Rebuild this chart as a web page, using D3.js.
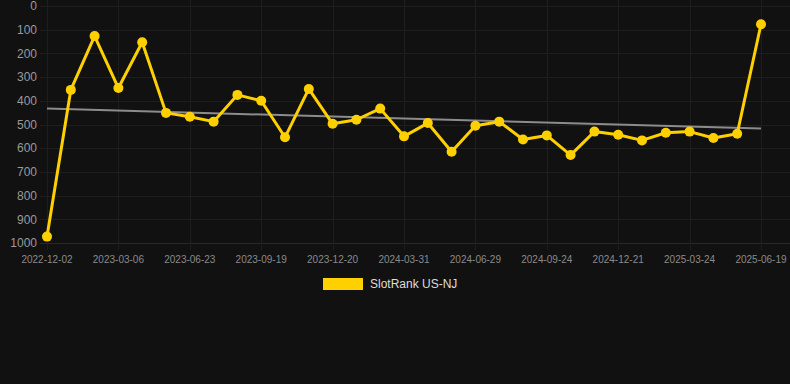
<!DOCTYPE html>
<html>
<head>
<meta charset="utf-8">
<script src="https://cdn.jsdelivr.net/npm/d3@7"></script>
<style>
  html, body { margin: 0; padding: 0; background: #111111; }
  svg { display: block; font-family: "Liberation Sans", Arial, Helvetica, sans-serif; }
</style>
</head>
<body>
<div id="chart"></div>
<script>
// rank per snapshot (lower is better, axis is reversed)
var ranks = [973, 354, 127, 346, 153, 451, 467, 488, 375, 400, 554, 350, 497, 480, 433,
             550, 494, 615, 505, 488, 563, 546, 629, 530, 543, 567, 535, 530, 557, 539, 77];
// labels shown every third point
var tickLabels = ["2022-12-02", "2023-03-06", "2023-06-23", "2023-09-19", "2023-12-20", "2024-03-31",
                  "2024-06-29", "2024-09-24", "2024-12-21", "2025-03-24", "2025-06-19"];
var yTicks = [0, 100, 200, 300, 400, 500, 600, 700, 800, 900, 1000];
var seriesName = "SlotRank US-NJ";

var W = 790, H = 384;
var margin = {top: 6, right: 29, bottom: 141, left: 47};

var svg = d3.select("#chart").append("svg")
    .attr("width", W)
    .attr("height", H);

svg.append("rect").attr("width", W).attr("height", H).attr("fill", "#111111");

var idx = d3.range(ranks.length);

var x = d3.scalePoint()
    .domain(idx)
    .range([margin.left, W - margin.right]);

var y = d3.scaleLinear()
    .domain([0, 1000])
    .range([margin.top, H - margin.bottom]);

var gridCol = "#1e1e1e";

// horizontal grid
svg.append("g")
    .selectAll("line")
    .data(yTicks)
    .enter().append("line")
    .attr("x1", 40).attr("x2", W)
    .attr("y1", function(d){ return Math.round(y(d)) + 0.5; })
    .attr("y2", function(d){ return Math.round(y(d)) + 0.5; })
    .attr("stroke", function(d){ return d === 1000 ? "#282828" : gridCol; })
    .attr("stroke-width", 1);

// vertical grid at labelled points
var tickIdx = idx.filter(function(i){ return i % 3 === 0; });
svg.append("g")
    .selectAll("line")
    .data(tickIdx)
    .enter().append("line")
    .attr("x1", function(d){ return Math.round(x(d)) + 0.5; })
    .attr("x2", function(d){ return Math.round(x(d)) + 0.5; })
    .attr("y1", 0).attr("y2", y(1000) + 7)
    .attr("stroke", gridCol)
    .attr("stroke-width", 1);

// y axis labels
svg.append("g")
    .selectAll("text")
    .data(yTicks)
    .enter().append("text")
    .attr("x", 37)
    .attr("y", function(d){ return y(d); })
    .attr("dy", "0.35em")
    .attr("text-anchor", "end")
    .attr("fill", "#9a9a9a")
    .attr("font-size", 12)
    .text(function(d){ return d; });

// x axis labels
svg.append("g")
    .selectAll("text")
    .data(tickIdx)
    .enter().append("text")
    .attr("x", function(d){ return x(d); })
    .attr("y", y(1000) + 20)
    .attr("text-anchor", "middle")
    .attr("fill", "#8a8a8a")
    .attr("font-size", 10)
    .text(function(d, i){ return tickLabels[i]; });

// linear trend (least squares)
var mx = d3.mean(idx), my = d3.mean(ranks);
var sxy = d3.sum(idx, function(i){ return (i - mx) * (ranks[i] - my); });
var sxx = d3.sum(idx, function(i){ return (i - mx) * (i - mx); });
var slope = sxy / sxx, icpt = my - slope * mx;
var last = idx.length - 1;

svg.append("line")
    .attr("x1", x(0)).attr("y1", y(icpt))
    .attr("x2", x(last)).attr("y2", y(icpt + slope * last))
    .attr("stroke", "#8c8c8c")
    .attr("stroke-width", 2);

// series
var gold = "#ffd000";
var line = d3.line()
    .x(function(d, i){ return x(i); })
    .y(function(d){ return y(d); });

svg.append("path")
    .datum(ranks)
    .attr("d", line)
    .attr("fill", "none")
    .attr("stroke", gold)
    .attr("stroke-width", 3)
    .attr("stroke-linejoin", "round");

svg.append("g")
    .selectAll("circle")
    .data(ranks)
    .enter().append("circle")
    .attr("cx", function(d, i){ return x(i); })
    .attr("cy", function(d){ return y(d); })
    .attr("r", 5)
    .attr("fill", gold);

// legend
var lg = svg.append("g");
lg.append("rect")
    .attr("x", 323).attr("y", 278)
    .attr("width", 40).attr("height", 12)
    .attr("fill", gold);
lg.append("text")
    .attr("x", 370).attr("y", 284)
    .attr("dy", "0.35em")
    .attr("fill", "#dddddd")
    .attr("font-size", 12)
    .text(seriesName);
</script>
</body>
</html>
